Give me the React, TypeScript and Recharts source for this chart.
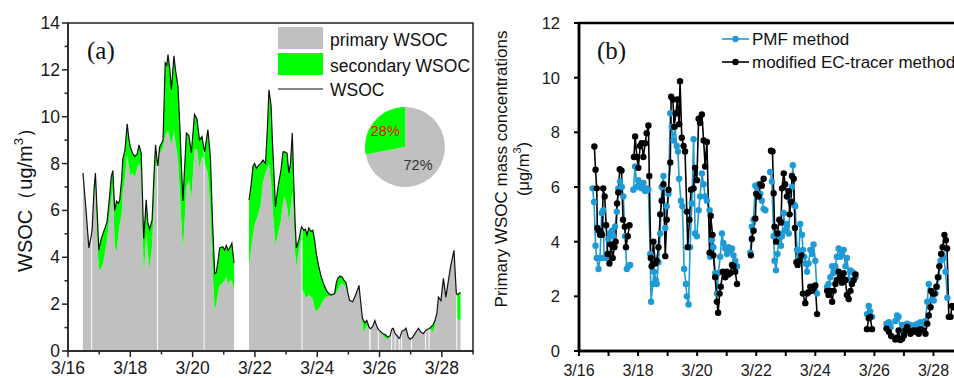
import { ComposedChart, LineChart, Area, Line, XAxis, YAxis, ReferenceArea, PieChart, Pie, Cell } from "recharts";

// x positions are days after 3/16 00:00
const dayLabels = ["3/16", "3/17", "3/18", "3/19", "3/20", "3/21", "3/22", "3/23", "3/24", "3/25", "3/26", "3/27", "3/28", "3/29"];
const dayTicks = dayLabels.map((_, i) => i);
const wsocTicks = [0, 1, 2, 3, 4, 5, 6, 7, 8, 9, 10, 11, 12, 13, 14];
const primaryTicks = [0, 2, 4, 6, 8, 10, 12];

// (a) WSOC, null = no data
const aTime = [
  0.48, 0.58, 0.67, 0.745, 0.76, 0.775, 0.84, 0.88, 0.95, 0.99,
  1.05, 1.12, 1.2, 1.25, 1.32, 1.39, 1.44, 1.5, 1.56, 1.62,
  1.66, 1.72, 1.76, 1.83, 1.9, 1.95, 2.0, 2.07, 2.14, 2.22,
  2.28, 2.35, 2.43, 2.48, 2.51, 2.56, 2.62, 2.7, 2.76, 2.81,
  2.855, 2.87, 2.885, 2.94, 3.05, 3.12, 3.17, 3.21, 3.27, 3.32,
  3.4, 3.46, 3.53, 3.6, 3.64, 3.69, 3.75, 3.8, 3.88, 3.96,
  4.06, 4.14, 4.22, 4.3, 4.355, 4.37, 4.385, 4.49, 4.57, 4.64,
  4.71, 4.76, 4.82, 4.87, 4.97, 5.03, 5.08, 5.14, 5.19, 5.26,
  5.33, 5.55, 5.81, 5.87, 5.94, 5.99, 6.05, 6.1, 6.18, 6.26,
  6.34, 6.4, 6.45, 6.52, 6.56, 6.6, 6.66, 6.74, 6.84, 6.9,
  6.95, 7.03, 7.09, 7.14, 7.2, 7.24, 7.29, 7.33, 7.41, 7.495,
  7.51, 7.525, 7.57, 7.62, 7.67, 7.73, 7.8, 7.86, 7.92, 7.97,
  8.05, 8.13, 8.21, 8.29, 8.37, 8.45, 8.56, 8.61, 8.66, 8.73,
  8.8, 8.87, 8.93, 8.98, 9.04, 9.14, 9.25, 9.34, 9.41, 9.45,
  9.49, 9.53, 9.59, 9.67, 9.69, 9.71, 9.78, 9.85, 9.9, 9.945,
  9.96, 9.975, 10.1, 10.18, 10.26, 10.34, 10.375, 10.39, 10.405, 10.44,
  10.485, 10.5, 10.515, 10.55, 10.615, 10.63, 10.645, 10.695, 10.71, 10.725,
  10.8, 10.85, 10.92, 10.98, 11.015, 11.03, 11.045, 11.14, 11.25, 11.33,
  11.41, 11.465, 11.48, 11.495, 11.575, 11.59, 11.605, 11.71, 11.78, 11.84,
  11.89, 11.97, 12.05, 12.13, 12.21, 12.28, 12.39, 12.465, 12.48, 12.495,
  12.55, 12.6,
];
const aTotal = [
  7.6, 6.0, 4.4, 4.9, null, 5.2, 7.0, 7.6, 5.5, 4.3,
  4.7, 5.0, 5.3, 5.5, 6.4, 7.45, 7.7, 6.0, 6.4, 6.3,
  6.45, 7.3, 8.2, 8.6, 9.7, 9.1, 8.7, 8.45, 8.3, 8.4,
  8.8, 8.45, 4.8, 5.8, 6.45, 5.5, 5.2, 5.6, 7.5, 8.8,
  8.2, null, 7.9, 8.7, 9.0, 12.3, 12.2, 12.65, 12.0, 11.15,
  12.6, 11.9, 11.3, 9.3, 7.9, 6.4, 8.0, 9.3, 9.2, 8.45,
  10.1, 9.9, 9.0, 9.15, 8.7, null, 8.5, 9.45, 8.3, 5.5,
  3.3, 3.35, 3.9, 4.4, 4.45, 4.3, 4.5, 4.3, 4.4, 4.6,
  3.75, null, 6.45, 7.0, 7.9, 8.0, 7.8, 7.9, 8.0, 8.15,
  8.0, 9.5, 11.15, 10.45, 9.0, 7.9, 6.15, 7.0, 7.75, 8.5,
  8.5, 8.45, 7.6, 8.0, 9.3, 7.45, 5.5, 4.4, 4.75, 5.3,
  null, 5.25, 5.15, 5.2, 4.95, 5.25, 5.1, 5.15, 4.7, 4.15,
  3.6, 3.15, 2.85, 2.6, 2.45, 2.4, 2.45, 2.9, 3.1, 3.2,
  3.15, 3.0, 2.9, 2.5, 2.15, 2.1, 2.45, 2.8, 1.9, 1.4,
  1.3, 1.2, 1.3, 1.0, null, 0.95, 1.05, 1.3, 1.1, 0.95,
  null, 0.9, 0.75, 0.7, 0.6, 0.65, 0.85, null, 0.95, 0.97,
  0.8, null, 0.7, 0.68, 0.55, null, 0.55, 0.75, null, 0.85,
  0.9, 0.97, 0.6, 0.5, 0.55, null, 0.55, 0.75, 0.97, 0.8,
  0.75, 0.85, null, 0.9, 0.95, null, 0.97, 1.1, 1.3, 1.6,
  2.3, 2.15, 3.1, 2.3, 3.0, 3.6, 4.3, 2.45, null, 2.4,
  2.45, 2.5,
];
const aPrimary = [
  7.6, 6.0, 4.4, 4.9, null, 5.2, 6.8, 7.0, 4.5, 3.5,
  3.5, 3.7, 4.3, 4.7, 5.6, 6.5, 6.9, 4.5, 4.2, 5.0,
  5.4, 5.8, 6.8, 7.4, 8.4, 7.9, 7.5, 7.6, 7.4, 7.8,
  8.0, 7.6, 3.4, 4.2, 5.0, 4.2, 3.5, 4.5, 6.3, 7.9,
  8.0, null, 7.8, 8.4, 8.7, 9.2, 9.3, 9.4, 9.1, 8.8,
  9.4, 8.8, 8.2, 6.5, 5.5, 4.3, 5.7, 7.0, 7.3, 6.5,
  8.6, 8.6, 7.8, 8.3, 8.2, null, 8.0, 7.6, 6.0, 3.5,
  1.7, 2.0, 2.5, 2.8, 2.9, 3.0, 3.2, 2.8, 3.0, 3.0,
  2.6, null, 3.6, 4.3, 5.0, 5.4, 5.6, 5.8, 6.2, 7.2,
  7.6, 7.8, 8.0, 7.2, 6.3, 5.5, 4.5, 5.0, 5.6, 6.3,
  6.6, 6.2, 5.5, 6.0, 6.8, 6.0, 4.2, 3.6, 4.3, 4.8,
  null, 2.6, 2.5, 2.3, 2.3, 2.4, 2.3, 2.2, 1.8, 1.7,
  1.8, 2.0, 2.2, 2.3, 2.35, 2.35, 2.4, 2.5, 2.6, 2.8,
  2.9, 2.8, 2.7, 2.4, 2.15, 2.1, 2.45, 2.8, 1.9, 1.2,
  0.8, 0.9, 1.1, 1.0, null, 0.95, 1.05, 1.3, 1.1, 0.95,
  null, 0.9, 0.7, 0.55, 0.5, 0.65, 0.85, null, 0.95, 0.97,
  0.8, null, 0.7, 0.68, 0.55, null, 0.55, 0.75, null, 0.85,
  0.9, 0.97, 0.6, 0.5, 0.55, null, 0.55, 0.75, 0.97, 0.8,
  0.75, 0.85, null, 0.9, 0.95, null, 0.97, 0.8, 1.1, 1.6,
  2.3, 2.15, 3.1, 2.3, 3.0, 3.6, 4.3, 2.45, null, 1.4,
  1.3, 1.35,
];
// the WSOC line only breaks at the long outage
const wsocLineGap = 5.55;

const pieNames = ["primary WSOC", "secondary WSOC"];
const pieShares = [72, 28];

// (b) primary WSOC by two methods
const pmfTime = [
  0.46, 0.51, 0.56, 0.6, 0.66, 0.71, 0.77, 0.82, 0.85, 0.92, 0.99, 1.05, 1.11, 1.16, 1.22, 1.28, 1.33, 1.39, 1.45, 1.5, 1.56, 1.62, 1.67, 1.73, 1.78,
  1.84, 1.9, 1.96, 2.01, 2.07, 2.12, 2.18, 2.24, 2.29, 2.35,
  2.41, 2.44, 2.5, 2.54, 2.6, 2.63, 2.69, 2.75, 2.8, 2.86,
  2.92, 2.97, 3.03, 3.09, 3.14, 3.2, 3.25, 3.31, 3.35, 3.39,
  3.45, 3.5, 3.56, 3.62, 3.65, 3.71, 3.76, 3.82, 3.88, 3.93,
  3.99, 4.05, 4.1, 4.16, 4.22, 4.27, 4.33, 4.42, 4.44, 4.5,
  4.55, 4.61, 4.67, 4.72, 4.78, 4.84, 4.89, 4.95, 5.01, 5.06,
  5.12, 5.18, 5.23, 5.29, 5.35, 5.55,
  5.8, 5.85, 5.91, 5.97, 6.02, 6.08, 6.14, 6.19, 6.25, 6.31, 6.4,
  6.47, 6.53, 6.59, 6.62, 6.67, 6.72, 6.78, 6.84, 6.87, 6.93,
  6.98, 7.04, 7.1, 7.15, 7.21, 7.24, 7.29, 7.32, 7.38, 7.44,
  7.49, 7.55, 7.58, 7.63, 7.67, 7.72, 7.77, 7.83, 7.89, 7.94,
  8.0, 8.06, 8.2,
  8.4, 8.45, 8.51, 8.57, 8.62, 8.68, 8.73, 8.79, 8.85, 8.9, 8.96, 9.02, 9.07, 9.13, 9.19, 9.24, 9.3, 9.36, 9.5,
  9.75, 9.81, 9.86, 9.92, 10.1,
  10.41, 10.49, 10.55, 10.71, 10.77, 10.82, 10.88, 10.94, 11.0, 11.05,
  11.11, 11.22, 11.33, 11.39, 11.45, 11.56, 11.67, 11.73, 11.79, 11.84,
  11.9, 11.96, 12.01, 12.07, 12.12, 12.18, 12.24, 12.3, 12.35, 12.41, 12.47,
];
const pmfValue = [
  5.95, 5.45, 3.85, 3.4, 3.0, 3.4, 5.05, 5.15, 3.4, 3.4, 4.1, 4.3, 4.4, 4.2, 4.55, 5.1, 5.95, 6.2, 6.0, 5.65, 4.2, 3.0, 3.1, 3.15, null,
  5.9, 6.75, 6.0, 6.25, 6.1, 5.95, 6.15, 5.85, 5.95, 5.9,
  3.55, 1.8, 2.45, 2.9, 2.6, 2.45, 3.25, 4.3, 6.0, 6.4,
  4.5, 5.3, 5.75, 8.7, 8.2, 7.7, 8.2, 7.5, 7.3, 6.3,
  5.5, 5.3, 3.0, 2.45, 2.0, 1.7, 3.8, 5.4, 7.75, 4.3,
  4.2, 5.15, 5.65, 6.5, 6.1, 5.65, 5.5, 5.15, 3.45, 4.05,
  3.8, 2.85, 2.1, 2.85, 3.45, 4.3, 3.95, 3.75, 3.55, 3.8,
  3.65, 3.75, 3.5, 3.3, 3.1, null,
  3.6, 4.55, 4.8, 6.05, 5.75, 6.1, 5.75, 5.5, 5.2, 5.15, null,
  6.55, 6.2, 4.2, 3.3, 2.95, 3.55, 4.3, 3.85, 4.2, 5.05,
  4.4, 4.65, 4.3, 5.5, 6.0, 6.8, 5.35, 5.3, 3.7, 3.45,
  4.65, 4.25, 3.7, 3.45, 3.2, 2.9, 3.2, 3.7, 3.55, 3.9,
  3.3, 2.1, null,
  2.35, 2.45, 2.7, 3.1, 2.85, 3.1, 3.45, 3.75, 3.45, 3.55, 3.7, 3.1, 3.4, 2.6, 2.95, 2.9, 2.85, 2.7, null,
  1.35, 1.65, 1.45, 1.25, null,
  1.0, 1.05, 0.88, 1.1, 1.3, 1.25, 0.75, 0.95, 0.88, 0.95,
  1.0, 0.95, 0.88, 0.95, 1.0, 1.05, 1.0, 1.1, 1.8, 2.45,
  2.2, 1.9, 1.85, 2.1, 2.35, 2.7, 3.3, 3.55, 3.4, 2.9, 1.95,
];
const ecTime = [
  0.52, 0.56, 0.6, 0.62, 0.67, 0.71, 0.75, 0.78, 0.82, 0.87,
  0.92, 0.97, 1.03, 1.08, 1.14, 1.2, 1.24, 1.29, 1.33, 1.38,
  1.44, 1.49, 1.55, 1.59, 1.65, 1.71, 1.78,
  1.86, 1.9, 1.96, 2.01, 2.07, 2.12, 2.18, 2.24, 2.29, 2.35,
  2.38, 2.43, 2.46, 2.52, 2.58, 2.63, 2.69, 2.75, 2.8, 2.86,
  2.92, 2.97, 3.03, 3.09, 3.12, 3.18, 3.22, 3.28, 3.33, 3.39,
  3.42, 3.48, 3.54, 3.59, 3.65, 3.68, 3.74, 3.79, 3.88, 3.93,
  3.99, 4.05, 4.1, 4.16, 4.22, 4.27, 4.33, 4.42, 4.46, 4.52,
  4.55, 4.61, 4.67, 4.71, 4.76, 4.8, 4.87, 4.95, 5.01, 5.06,
  5.12, 5.18, 5.23, 5.29, 5.35, 5.55,
  5.82, 5.85, 5.91, 5.97, 6.0, 6.08, 6.14, 6.19, 6.25, 6.4,
  6.5, 6.55, 6.59, 6.62, 6.67, 6.72, 6.78, 6.84, 6.87, 6.93,
  6.98, 7.04, 7.1, 7.13, 7.18, 7.21, 7.27, 7.31, 7.36, 7.4,
  7.47, 7.53, 7.58, 7.66, 7.72, 7.77, 7.83, 7.89, 7.94, 8.0,
  8.06, 8.2,
  8.4, 8.45, 8.51, 8.57, 8.62, 8.68, 8.73, 8.79, 8.85, 8.9, 8.96, 9.02, 9.07, 9.13, 9.19, 9.24, 9.3, 9.36, 9.5,
  9.75, 9.81, 9.86, 9.92, 10.1,
  10.41, 10.49, 10.57, 10.71, 10.77, 10.82, 10.88, 10.94, 11.0, 11.05,
  11.11, 11.16, 11.22, 11.28, 11.33, 11.39, 11.45, 11.5, 11.56, 11.67,
  11.73, 11.79, 11.84, 11.9, 11.92, 11.98, 12.03, 12.1, 12.15, 12.2,
  12.26, 12.31, 12.37, 12.42, 12.46, 12.52, 12.58, 12.63, 12.69,
];
const ecValue = [
  7.48, 6.63, 5.95, 4.5, 4.4, 4.25, 4.3, 4.25, 5.95, 5.65,
  4.6, 3.55, 3.2, 3.9, 3.4, 3.8, 4.0, 5.4, 5.8, 6.65,
  6.6, 4.8, 4.55, 3.8, 4.2, 4.6, null,
  7.1, 7.85, 7.1, 6.7, 7.5, 7.6, 7.1, 7.6, 7.97, 8.25,
  6.4, 3.4, 3.1, 4.0, 3.2, 3.3, 3.8, 5.0, 5.5, 6.1,
  3.47, 4.8, 5.9, 6.9, 9.3, 9.2, 8.2, 8.7, 9.2, 8.3,
  9.87, 7.8, 7.5, 7.3, 5.1, 3.8, 4.8, 5.9, 5.95, 6.7,
  6.25, 8.5, 8.35, 8.65, 7.7, 6.75, 7.65, 3.6, 4.95, 4.25,
  3.5, 2.7, 1.8, 1.4, 2.1, 2.35, 2.9, 2.7, 2.9, 2.8,
  2.85, 3.15, 3.1, 2.9, 2.45, null,
  3.5, 4.1, 4.4, 4.85, 5.75, 5.65, 6.1, 6.05, 6.3, null,
  7.33, 7.3, 5.77, 4.55, 4.0, 4.3, 4.8, 4.7, 5.95, 6.5,
  6.1, 5.65, 5.85, 5.0, 5.45, 6.4, 6.3, 4.5, 3.25, 3.15,
  3.3, 3.5, 2.1, 1.75, 2.1, 2.15, 2.35, 2.2, 2.35, 2.4,
  1.35, null,
  2.2, 2.05, 2.2, 1.8, 2.2, 2.45, 2.6, 2.9, 2.7, 2.5, 2.85, 2.6, 2.05, 1.9, 2.2, 2.45, 2.6, 2.8, null,
  0.8, 1.2, 1.25, 0.8, null,
  0.82, 0.7, 0.55, 0.42, 0.5, 0.75, 0.4, 0.45, 0.57, 0.75,
  0.88, 0.75, 0.63, 0.7, 0.75, 0.7, 0.75, 0.63, 0.8, 0.75,
  0.63, 1.0, 1.3, 1.6, 2.2, 2.1, 2.1, 2.35, 2.7, 3.1,
  3.55, 3.8, 4.25, 4.05, 3.75, 1.25, 1.25, 1.65, 1.6,
];

const GRAY = "#c0c0c0";
const GREEN = "#00ff00";
const BLUE = "#1e9ad6";
const SANS = "'Liberation Sans', Arial, sans-serif";
const SERIF = "'Liberation Serif', 'Times New Roman', serif";

const wsocRows = aTime.map((t, i) => ({
  t,
  primary: aPrimary[i],
  secondary: aTotal[i] == null || aPrimary[i] == null ? null : [aPrimary[i], aTotal[i]],
  total: aTotal[i],
}));
const wsocLineRows = wsocRows.filter((r) => r.total != null || r.t === wsocLineGap);
const pieRows = pieNames.map((name, i) => ({ name, value: pieShares[i] }));
const pmfRows = pmfTime.map((t, i) => ({ t, v: pmfValue[i] }));
const ecRows = ecTime.map((t, i) => ({ t, v: ecValue[i] }));

function XTickA(props: any) {
  const { x, y, payload } = props;
  const d = payload.value as number;
  const major = d % 2 === 0;
  return (
    <g>
      <line x1={x} x2={x} y1={y} y2={y + (major ? 6 : 3.5)} stroke="#222" strokeWidth={1.5} />
      {major && (
        <text x={x} y={y + 23} textAnchor="middle" fontSize={17.5} fontFamily={SANS} fill="#1a1a1a">
          {dayLabels[d]}
        </text>
      )}
    </g>
  );
}

function YTickA(props: any) {
  const { x, y, payload } = props;
  const v = payload.value as number;
  const major = v % 2 === 0;
  return (
    <g>
      <line x1={x - (major ? 6 : 3.5)} x2={x} y1={y} y2={y} stroke="#222" strokeWidth={1.5} />
      {major && (
        <text x={x - 8} y={y + 6} textAnchor="end" fontSize={17.5} fontFamily={SANS} fill="#1a1a1a">
          {v}
        </text>
      )}
    </g>
  );
}

function XTickB(props: any) {
  const { x, y, payload } = props;
  const d = payload.value as number;
  return (
    <g>
      <line x1={x} x2={x} y1={y} y2={y + 5} stroke="#000" strokeWidth={2} />
      {d % 2 === 0 && (
        <text x={x} y={y + 24.5} textAnchor="middle" fontSize={16} fontFamily={SANS} fill="#1a1a1a">
          {dayLabels[d]}
        </text>
      )}
    </g>
  );
}

function YTickB(props: any) {
  const { x, y, payload } = props;
  return (
    <g>
      <line x1={x - 5} x2={x} y1={y} y2={y} stroke="#000" strokeWidth={2} />
      <text x={x - 19} y={y + 6} textAnchor="end" fontSize={16.5} fontFamily={SANS} fill="#1a1a1a">
        {payload.value}
      </text>
    </g>
  );
}

const RAD = Math.PI / 180;
function PieLabel(props: any) {
  const { cx, cy, midAngle, outerRadius, percent, index } = props;
  const r = outerRadius * (index === 1 ? 0.64 : 0.55);
  const a = midAngle - (index === 1 ? 0 : 14);
  const x = cx + r * Math.cos(-a * RAD);
  const y = cy + r * Math.sin(-a * RAD);
  return (
    <text x={x} y={y} dy="0.35em" textAnchor="middle" fontSize={14.5} fontFamily={SANS} fill={index === 1 ? "#ff0000" : "#333"}>
      {`${Math.round(percent * 100)}%`}
    </text>
  );
}

export default function App() {
  return (
    <div
      style={{
        position: "fixed",
        left: 0,
        top: 0,
        width: 954,
        height: 378,
        overflow: "hidden",
        background: "#fff",
        fontFamily: SANS,
      }}
    >
      {/* (a) */}
      <div style={{ position: "absolute", left: 0, top: 0 }}>
        <ComposedChart width={480} height={378} data={wsocRows} margin={{ top: 23, right: 7, bottom: 0, left: 0 }}>
          <XAxis
            dataKey="t"
            type="number"
            domain={[0, 13]}
            ticks={dayTicks}
            interval={0}
            height={27}
            tick={XTickA}
            tickSize={0}
            tickMargin={0}
            tickLine={false}
            axisLine={{ stroke: "#222", strokeWidth: 1.5 }}
          />
          <YAxis
            type="number"
            domain={[0, 14]}
            ticks={wsocTicks}
            interval={0}
            width={68}
            tick={YTickA}
            tickSize={0}
            tickMargin={0}
            tickLine={false}
            axisLine={{ stroke: "#222", strokeWidth: 1.5 }}
          />
          <Area
            dataKey="primary"
            name="primary WSOC"
            type="linear"
            baseValue={0}
            fill={GRAY}
            fillOpacity={1}
            stroke="none"
            connectNulls={false}
            isAnimationActive={false}
          />
          <Area
            dataKey="secondary"
            name="secondary WSOC"
            type="linear"
            fill={GREEN}
            fillOpacity={1}
            stroke="none"
            connectNulls={false}
            isAnimationActive={false}
          />
          <Line
            data={wsocLineRows}
            dataKey="total"
            name="WSOC"
            type="linear"
            stroke="#111"
            strokeWidth={1.2}
            dot={false}
            activeDot={false}
            connectNulls={false}
            isAnimationActive={false}
          />
          <ReferenceArea x1={0} x2={13} y1={0} y2={14} fill="none" stroke="#222" strokeWidth={1.5} />
        </ComposedChart>
      </div>

      {/* inset pie */}
      <div style={{ position: "absolute", left: 355, top: 97 }}>
        <PieChart width={100} height={100} margin={{ top: 0, right: 0, bottom: 0, left: 0 }}>
          <Pie
            data={pieRows}
            dataKey="value"
            cx={50}
            cy={50}
            outerRadius={40}
            startAngle={90}
            endAngle={-270}
            stroke="none"
            label={PieLabel}
            labelLine={false}
            isAnimationActive={false}
          >
            <Cell fill={GRAY} />
            <Cell fill={GREEN} />
          </Pie>
        </PieChart>
      </div>

      {/* (b) */}
      <div style={{ position: "absolute", left: 480, top: 0 }}>
        <LineChart width={491} height={378} margin={{ top: 23, right: 8, bottom: 0, left: 0 }}>
          <XAxis
            dataKey="t"
            type="number"
            domain={[0, 13]}
            ticks={dayTicks}
            interval={0}
            height={27}
            tick={XTickB}
            tickSize={0}
            tickMargin={0}
            tickLine={false}
            axisLine={{ stroke: "#000", strokeWidth: 2.5 }}
          />
          <YAxis
            type="number"
            domain={[0, 12]}
            ticks={primaryTicks}
            interval={0}
            width={99}
            tick={YTickB}
            tickSize={0}
            tickMargin={0}
            tickLine={false}
            axisLine={{ stroke: "#000", strokeWidth: 2.5 }}
          />
          <ReferenceArea x1={0} x2={13} y1={0} y2={12} fill="none" stroke="#000" strokeWidth={2.5} />
          <Line
            data={pmfRows}
            dataKey="v"
            name="PMF method"
            type="linear"
            stroke={BLUE}
            strokeWidth={1.6}
            dot={{ r: 3.2, fill: BLUE, stroke: BLUE, strokeWidth: 0 }}
            activeDot={false}
            connectNulls={false}
            isAnimationActive={false}
          />
          <Line
            data={ecRows}
            dataKey="v"
            name="modified EC-tracer method"
            type="linear"
            stroke="#000"
            strokeWidth={1.6}
            dot={{ r: 3.2, fill: "#000", stroke: "#000", strokeWidth: 0 }}
            activeDot={false}
            connectNulls={false}
            isAnimationActive={false}
          />
        </LineChart>
      </div>

      {/* titles, panel letters and legends */}
      <svg width={954} height={378} style={{ position: "absolute", left: 0, top: 0, pointerEvents: "none" }}>
        <text x={87} y={58.5} fontSize={25} fontFamily={SERIF} fill="#111">(a)</text>
        <text transform="translate(25,195) rotate(-90)" textAnchor="middle" dominantBaseline="central" fontSize={20} fontFamily={SANS} fill="#111">
          WSOC（ug/m<tspan dy={-7} fontSize={13}>3</tspan>
          <tspan dy={7}>）</tspan>
        </text>

        <rect x={278} y={27} width={45} height={22} fill={GRAY} />
        <rect x={278} y={53} width={45} height={22} fill={GREEN} />
        <line x1={278} x2={323} y1={89} y2={89} stroke="#111" strokeWidth={1.2} />
        <text x={330} y={45.5} fontSize={17.5} fontFamily={SANS} fill="#111">primary WSOC</text>
        <text x={330} y={71.5} fontSize={17.5} fontFamily={SANS} fill="#111">secondary WSOC</text>
        <text x={330} y={95.5} fontSize={17.5} fontFamily={SANS} fill="#111">WSOC</text>

        <text x={597} y={58.5} fontSize={25} fontFamily={SERIF} fill="#111">(b)</text>
        <text transform="translate(501,169) rotate(-90)" textAnchor="middle" dominantBaseline="central" fontSize={17} fontFamily={SANS} fill="#111">
          Primary WSOC mass concentrations
        </text>
        <text transform="translate(523,169) rotate(-90)" textAnchor="middle" dominantBaseline="central" fontSize={16.5} fontFamily={SANS} fill="#111">
          (μg/m<tspan dy={-6} fontSize={11}>3</tspan>
          <tspan dy={6}>)</tspan>
        </text>

        <line x1={722} x2={749} y1={39} y2={39} stroke={BLUE} strokeWidth={1.6} />
        <circle cx={735.5} cy={39} r={3.2} fill={BLUE} />
        <text x={752} y={45} fontSize={17} fontFamily={SANS} fill="#111">PMF method</text>
        <line x1={722} x2={749} y1={62} y2={62} stroke="#000" strokeWidth={1.6} />
        <circle cx={735.5} cy={62} r={3.2} fill="#000" />
        <text x={752} y={68} fontSize={17} fontFamily={SANS} fill="#111">modified EC-tracer method</text>
      </svg>
    </div>
  );
}
